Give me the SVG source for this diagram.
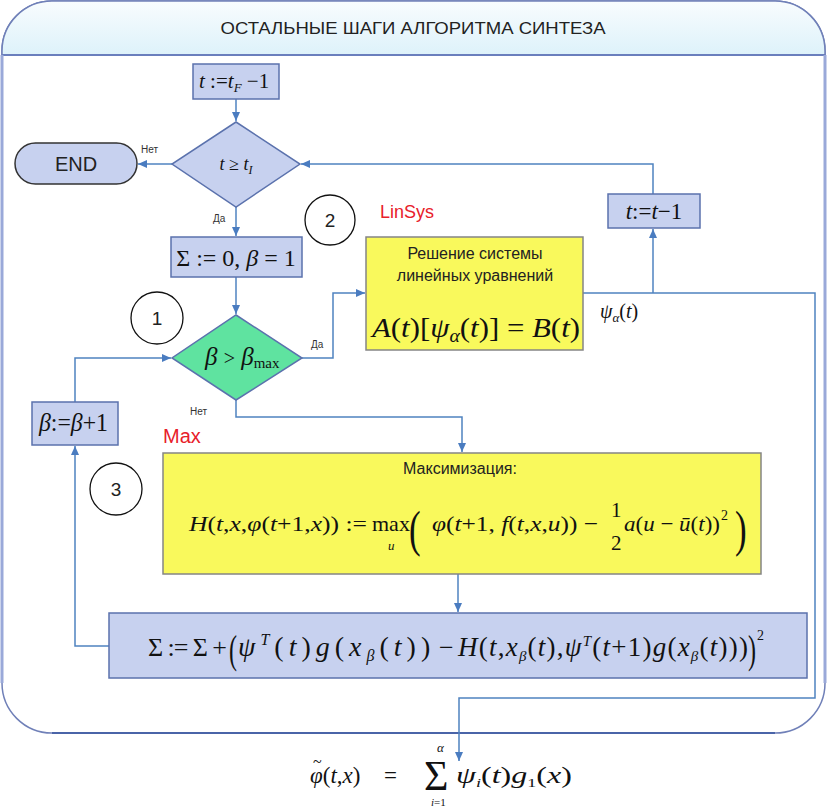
<svg xmlns="http://www.w3.org/2000/svg" width="827" height="807" viewBox="0 0 827 807">
<defs>
<linearGradient id="hdr" x1="0" y1="0" x2="0" y2="1">
<stop offset="0" stop-color="#f8fcfe"/>
<stop offset="1" stop-color="#ddf2fa"/>
</linearGradient>
<marker id="ar" markerUnits="userSpaceOnUse" markerWidth="10" markerHeight="10" refX="9" refY="4" orient="auto">
<path d="M0,0 L9,4 L0,8 z" fill="#4a7cc0"/>
</marker>
<style>
.box{fill:#c7d1ef;stroke:#5b72ad;stroke-width:1.5}
.yel{fill:#f9f95c;stroke:#858585;stroke-width:1.5}
.conn{fill:none;stroke:#4f83c0;stroke-width:1.5}
.lbl{font-family:"Liberation Sans",Arial,sans-serif;font-size:10px;fill:#333}
.sans{font-family:"Liberation Sans",Arial,sans-serif;fill:#222}
.m{font-family:"Liberation Serif","Times New Roman",serif;font-style:italic;fill:#111}
.u{font-style:normal}
.red{font-family:"Liberation Sans",Arial,sans-serif;fill:#e8202a}
.circ{fill:#fff;stroke:#111;stroke-width:1.3}
</style>
</defs>

<g id="frame">
<path d="M2,683 V51 A50,50 0 0 1 52,1 H775 A50,50 0 0 1 825,51 V683 A50,50 0 0 1 775,733 H52 A50,50 0 0 1 2,683 Z" fill="#fff" stroke="#7080b8" stroke-width="1.5"/>
<path d="M2,55 V51 A50,50 0 0 1 52,1 H775 A50,50 0 0 1 825,51 V55 Z" fill="url(#hdr)" stroke="#7080b8" stroke-width="1.5"/>
<line x1="2" y1="55" x2="825" y2="55" stroke="#6a7fbd" stroke-width="2"/>
<line x1="2" y1="55" x2="2" y2="683" stroke="#9aa9d9" stroke-width="3"/>
<line x1="825" y1="55" x2="825" y2="683" stroke="#9aa9d9" stroke-width="3"/>
<line x1="52" y1="733" x2="775" y2="733" stroke="#4a64a8" stroke-width="2"/>
<text class="sans" x="413" y="34" font-size="16" text-anchor="middle" textLength="385" lengthAdjust="spacingAndGlyphs">ОСТАЛЬНЫЕ ШАГИ АЛГОРИТМА СИНТЕЗА</text>
</g>

<g id="connectors">
<path class="conn" d="M236,99 V121" marker-end="url(#ar)"/>
<path class="conn" d="M172,164 H138" marker-end="url(#ar)"/>
<path class="conn" d="M236,207 V236" marker-end="url(#ar)"/>
<path class="conn" d="M236,277 V314" marker-end="url(#ar)"/>
<path class="conn" d="M302,358 H333 V293 H365" marker-end="url(#ar)"/>
<path class="conn" d="M236,400 V417 H462 V452" marker-end="url(#ar)"/>
<path class="conn" d="M458,574 V612" marker-end="url(#ar)"/>
<path class="conn" d="M109,646 H75 V446" marker-end="url(#ar)"/>
<path class="conn" d="M75,402 V358 H171" marker-end="url(#ar)"/>
<path class="conn" d="M583,293 H815 V698 H459 V761" marker-end="url(#ar)"/>
<path class="conn" d="M653,293 V229" marker-end="url(#ar)"/>
<path class="conn" d="M653,194 V164 H301" marker-end="url(#ar)"/>
<text class="lbl" x="141" y="153">Нет</text>
<text class="lbl" x="213" y="222">Да</text>
<text class="lbl" x="311" y="348">Да</text>
<text class="lbl" x="190" y="415">Нет</text>
<text class="m" x="600" y="318" font-size="20">ψ<tspan dy="4" font-size="13">α</tspan><tspan dy="-4" class="u">(</tspan>t<tspan class="u">)</tspan></text>
</g>

<g id="n-init">
<rect class="box" x="193" y="64" width="86" height="35"/>
<text class="m" x="199" y="88" font-size="21">t <tspan class="u">:=</tspan>t<tspan dy="4" font-size="13">F</tspan><tspan dy="-4" class="u"> −1</tspan></text>
</g>

<g id="n-cond-t">
<polygon class="box" points="236,122 300,164 236,207 172,164"/>
<text class="m" x="236" y="170" font-size="18" text-anchor="middle">t <tspan class="u">≥</tspan> t<tspan dy="4" font-size="12">I</tspan></text>
</g>

<g id="n-end">
<rect x="15" y="143" width="122" height="41" rx="20.5" fill="#c7d1ef" stroke="#333" stroke-width="1.5"/>
<text class="sans" x="76" y="171" font-size="20" text-anchor="middle">END</text>
</g>

<g id="n-sum0">
<rect class="box" x="171" y="237" width="131" height="40"/>
<text class="m" x="236" y="266" font-size="24" text-anchor="middle"><tspan class="u">Σ := 0, </tspan>β<tspan class="u"> = 1</tspan></text>
</g>

<g id="c2">
<circle class="circ" cx="330" cy="220" r="25"/>
<text class="sans" x="330" y="227" font-size="19" text-anchor="middle">2</text>
</g>
<text class="red" x="380" y="218" font-size="18">LinSys</text>

<g id="n-linsys">
<rect class="yel" x="366" y="237" width="217" height="113"/>
<text class="sans" x="475" y="259" font-size="16" text-anchor="middle">Решение системы</text>
<text class="sans" x="475" y="281" font-size="16" text-anchor="middle">линейных уравнений</text>
<text class="m" x="372" y="337" font-size="28" textLength="208" lengthAdjust="spacingAndGlyphs">A<tspan class="u">(</tspan>t<tspan class="u">)[</tspan>ψ<tspan dy="5" font-size="18">α</tspan><tspan dy="-5" class="u">(</tspan>t<tspan class="u">)] = </tspan>B<tspan class="u">(</tspan>t<tspan class="u">)</tspan></text>
</g>

<g id="n-dec">
<rect class="box" x="608" y="194" width="92" height="34"/>
<text class="m" x="654" y="219" font-size="23" text-anchor="middle">t<tspan class="u">:=</tspan>t<tspan class="u">−1</tspan></text>
</g>

<g id="c1">
<circle class="circ" cx="157" cy="318" r="26"/>
<text class="sans" x="157" y="325" font-size="19" text-anchor="middle">1</text>
</g>

<g id="n-cond-beta">
<polygon points="236,315 302,358 236,400 172,358" fill="#5fe3a0" stroke="#5b72ad" stroke-width="1.5"/>
<text class="m" x="205" y="365" font-size="25">β <tspan class="u" font-size="20">&gt;</tspan> β<tspan dy="3" font-size="15" class="u">max</tspan></text>
</g>

<g id="n-inc">
<rect class="box" x="32" y="402" width="86" height="43"/>
<text class="m" x="39" y="431" font-size="25" textLength="69" lengthAdjust="spacingAndGlyphs">β<tspan class="u">:=</tspan>β<tspan class="u">+1</tspan></text>
</g>

<text class="red" x="163" y="443" font-size="20">Max</text>

<g id="c3">
<circle class="circ" cx="116" cy="489" r="26"/>
<text class="sans" x="116" y="496" font-size="19" text-anchor="middle">3</text>
</g>

<g id="n-max">
<rect class="yel" x="163" y="453" width="598" height="121"/>
<text class="sans" x="460" y="474" font-size="16" text-anchor="middle">Максимизация:</text>
<text class="m" x="189" y="531" font-size="22" textLength="178" lengthAdjust="spacingAndGlyphs">H<tspan class="u">(</tspan>t<tspan class="u">,</tspan>x<tspan class="u">,</tspan>φ<tspan class="u">(</tspan>t<tspan class="u">+1,</tspan>x<tspan class="u">)) :=</tspan></text>
<text class="m u" x="372" y="531" font-size="22">max</text>
<text class="m" x="388" y="550" font-size="13">u</text>
<text class="m u" x="409" y="546" font-size="50" transform="translate(409 0) scale(0.7 1) translate(-409 0)">(</text>
<text class="m" x="432" y="531" font-size="22" textLength="166" lengthAdjust="spacingAndGlyphs">φ<tspan class="u">(</tspan>t<tspan class="u">+1, </tspan>f<tspan class="u">(</tspan>t<tspan class="u">,</tspan>x<tspan class="u">,</tspan>u<tspan class="u">)) −</tspan></text>
<text class="m u" x="611" y="517" font-size="21">1</text>
<text class="m u" x="611" y="550" font-size="21">2</text>
<text class="m" x="624" y="531" font-size="22" textLength="96" lengthAdjust="spacingAndGlyphs">a<tspan class="u">(</tspan>u<tspan class="u"> − </tspan>ū<tspan class="u">(</tspan>t<tspan class="u">))</tspan></text>
<text class="m u" x="721" y="520" font-size="14">2</text>
<text class="m u" x="735" y="546" font-size="50" transform="translate(735 0) scale(0.7 1) translate(-735 0)">)</text>
</g>

<g id="n-sum">
<rect class="box" x="109" y="613" width="698" height="65"/>
<text class="m u" x="148" y="656" font-size="26" textLength="79">Σ := Σ +</text>
<text class="m u" x="229" y="663" font-size="40" transform="translate(229 0) scale(0.6 1) translate(-229 0)">(</text>
<text class="m" x="238" y="656" font-size="28" letter-spacing="5">ψ<tspan dy="-11" font-size="16">T</tspan><tspan dy="11" class="u">(</tspan>t<tspan class="u">)</tspan>g<tspan class="u">(</tspan>x<tspan dy="5" font-size="16">β</tspan><tspan dy="-5" class="u">(</tspan>t<tspan class="u">))</tspan></text>
<text class="m u" x="439" y="656" font-size="26">−</text>
<text class="m" x="458" y="656" font-size="27" textLength="290">H<tspan class="u">(</tspan>t<tspan class="u">,</tspan>x<tspan dy="5" font-size="15">β</tspan><tspan dy="-5" class="u">(</tspan>t<tspan class="u">),</tspan>ψ<tspan dy="-10" font-size="15">T</tspan><tspan dy="10" class="u">(</tspan>t<tspan class="u">+1)</tspan>g<tspan class="u">(</tspan>x<tspan dy="5" font-size="15">β</tspan><tspan dy="-5" class="u">(</tspan>t<tspan class="u">)))</tspan></text>
<text class="m u" x="748" y="663" font-size="40" transform="translate(748 0) scale(0.6 1) translate(-748 0)">)</text>
<text class="m u" x="757" y="640" font-size="14">2</text>
</g>

<g id="n-result">
<text class="m"><tspan class="u" x="313" y="767" font-size="16">~</tspan><tspan x="310" y="783" font-size="23">φ</tspan><tspan class="u" font-size="23">(</tspan><tspan font-size="23">t</tspan><tspan class="u" font-size="23">,</tspan><tspan font-size="23">x</tspan><tspan class="u" font-size="23">)</tspan><tspan class="u" x="384" font-size="23">=</tspan></text>
<text class="m"><tspan class="u" x="424" y="790" font-size="42">Σ</tspan><tspan x="437" y="752" font-size="13">α</tspan><tspan x="431" y="806" font-size="11">i</tspan><tspan class="u" font-size="11">=1</tspan></text>
<text class="m" x="456" y="783" font-size="23" textLength="116" lengthAdjust="spacingAndGlyphs">ψ<tspan dy="4" font-size="13">i</tspan><tspan dy="-4" class="u">(</tspan>t<tspan class="u">)</tspan>g<tspan dy="4" font-size="13" class="u">1</tspan><tspan dy="-4" class="u">(</tspan>x<tspan class="u">)</tspan></text>
</g>
</svg>
